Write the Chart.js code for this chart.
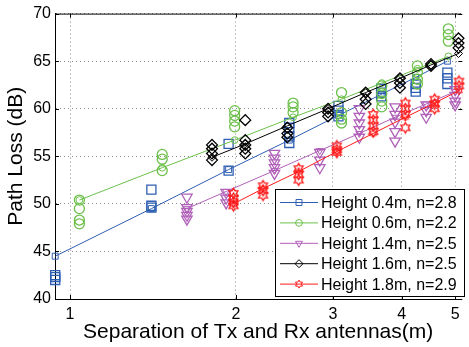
<!DOCTYPE html>
<html>
<head>
<meta charset="utf-8">
<script src="https://cdn.jsdelivr.net/npm/chart.js@4.4.0/dist/chart.umd.min.js"></script>
<style>
  html, body { margin: 0; padding: 0; background: #fff; }
  #wrap { width: 469px; height: 347px; }
</style>
</head>
<body>
<div id="wrap"><canvas id="chart"></canvas></div>
<script>
'use strict';

const xTicks = [1, 2, 3, 4, 5];
const yTicks = [40, 45, 50, 55, 60, 65, 70];

const labels = ['Height 0.4m, n=2.8', 'Height 0.6m, n=2.2', 'Height 1.4m, n=2.5', 'Height 1.6m, n=2.5', 'Height 1.8m, n=2.9'];
const colors = ['#2f5fb3', '#6cc04a', '#b060b8', '#000000', '#ff1a1a'];
const markers = ['rect', 'circle', 'triangle', 'rectRot', 'hexagram'];

// Height 0.4m
const dist04 = [0.94, 1.405, 1.94, 2.5, 3.07, 3.67, 4.24, 4.84];
const loss04 = [[42.0, 42.3, 42.5], [51.5, 49.8, 49.6], [56.3, 53.5], [58.5, 58.0, 57.1, 56.4],
  [60.3, 59.8, 59.2], [62.1, 61.7, 61.3], [62.6, 62.2, 61.8], [63.8, 63.2, 62.6]];
const fit04 = [44.5, 49.5, 53.6, 56.7, 59.3, 61.5, 63.3, 65.0];

// Height 0.6m
const dist06 = [1.04, 1.47, 1.99, 2.54, 3.11, 3.68, 4.27, 4.86];
const loss06 = [[50.4, 49.5, 48.3, 47.9], [55.2, 54.7, 53.5], [59.8, 59.3, 58.7, 58.1], [60.6, 60.2, 59.6],
  [61.7, 59.6, 58.9, 58.5], [62.4, 61.6, 60.8, 60.2], [64.5, 63.8, 63.1, 62.6], [68.4, 67.8, 67.1]];
const fit06 = [50.4, 53.8, 56.7, 59.1, 61.0, 62.7, 64.2, 65.5];

// Height 1.4m
const dist14 = [1.63, 1.92, 2.35, 2.84, 3.35, 3.89, 4.43, 5.0];
const loss14 = [[50.7, 49.6, 49.2, 48.8, 48.4], [51.2, 50.6, 50.1], [55.3, 54.8, 54.3, 53.8, 53.2], [55.4, 54.6, 53.8],
  [60.0, 59.2, 58.5, 57.8, 57.0], [60.2, 59.4, 58.6, 57.6, 56.6], [60.4, 59.8, 59.1], [62.0, 61.4, 60.8, 60.4]];
const fit14 = [49.5, 51.3, 53.5, 55.6, 57.4, 59.1, 60.5, 61.8];

// Height 1.6m
const dist16 = [1.81, 2.08, 2.48, 2.94, 3.44, 3.97, 4.52, 5.07];
const loss16 = [[56.2, 55.8, 55.3, 54.6], [58.8, 56.7, 56.2, 55.8, 55.3], [58.0, 57.4, 57.0], [60.0, 59.6, 59.2],
  [61.7, 61.0, 60.5], [63.2, 62.7, 62.2], [64.7, 64.5], [67.4, 66.9, 66.4]];
const fit16 = [54.9, 56.3, 58.2, 60.0, 61.7, 63.2, 64.6, 65.8];

// Height 1.8m
const dist18 = [1.98, 2.24, 2.6, 3.05, 3.55, 4.06, 4.59, 5.08];
const loss18 = [[51.1, 50.6, 50.2, 49.8], [51.9, 51.4, 50.9], [53.7, 53.1, 52.5], [56.1, 55.7, 55.4],
  [59.4, 58.8, 58.2, 57.6], [60.6, 60.0, 59.4, 58.0], [61.0, 60.5, 60.0], [62.9, 62.4]];
const fit18 = [50.0, 51.6, 53.4, 55.5, 57.4, 59.1, 60.6, 61.9];

const dists = [dist04, dist06, dist14, dist16, dist18];
const losses = [loss04, loss06, loss14, loss16, loss18];
const fits = [fit04, fit06, fit14, fit16, fit18];

const FONT = 'Liberation Sans, Arial, Helvetica, sans-serif';
const bigR = { rect: 6.4, circle: 5, triangle: 6, rectRot: 5.4, hexagram: 5.2 };
const smallR = { rect: 4.2, circle: 3.4, triangle: 4, rectRot: 4, hexagram: 4 };

// marker outlines (MATLAB style, unfilled)
function markerPath(ctx, shape, x, y, r) {
  ctx.beginPath();
  if (shape === 'rect') {
    const s = r * Math.SQRT2;
    ctx.rect(x - s / 2, y - s / 2, s, s);
  } else if (shape === 'circle') {
    ctx.arc(x, y, r, 0, Math.PI * 2);
  } else if (shape === 'triangle') {
    const w = r * Math.sin(Math.PI / 3);
    ctx.moveTo(x, y + r);
    ctx.lineTo(x - w, y - r / 2);
    ctx.lineTo(x + w, y - r / 2);
    ctx.closePath();
  } else if (shape === 'rectRot') {
    ctx.moveTo(x, y - r); ctx.lineTo(x + r, y); ctx.lineTo(x, y + r); ctx.lineTo(x - r, y);
    ctx.closePath();
  } else {
    for (let k = 0; k < 12; k++) {
      const a = -Math.PI / 2 + k * Math.PI / 6;
      const rr = k % 2 === 0 ? r : r / Math.sqrt(3);
      const px = x + rr * Math.cos(a), py = y + rr * Math.sin(a);
      if (k === 0) ctx.moveTo(px, py); else ctx.lineTo(px, py);
    }
    ctx.closePath();
  }
}

function hexImage(r, color, lw) {
  const c = document.createElement('canvas');
  const size = Math.ceil(2 * r + 4);
  c.width = size; c.height = size;
  const g = c.getContext('2d');
  g.strokeStyle = color; g.lineWidth = lw;
  markerPath(g, 'hexagram', size / 2, size / 2, r);
  g.stroke();
  return c;
}

function styleFor(i, r, lw) {
  const m = markers[i];
  if (m === 'hexagram') return { pointStyle: hexImage(r, colors[i], lw), pointRotation: 0 };
  return { pointStyle: m, pointRotation: m === 'triangle' ? 180 : 0 };
}

const datasets = [];
labels.forEach((lab, i) => {
  const pts = [];
  dists[i].forEach((d, j) => losses[i][j].forEach(v => pts.push({ x: d, y: v })));
  const big = styleFor(i, bigR[markers[i]], 1.3);
  datasets.push(Object.assign({
    type: 'scatter', label: '', data: pts, showLine: false,
    borderColor: colors[i], backgroundColor: 'transparent',
    pointRadius: bigR[markers[i]], pointBorderWidth: 1.3, pointBorderColor: colors[i],
    pointBackgroundColor: 'transparent', clip: false, order: 100 - 2 * i
  }, big));
  const small = styleFor(i, smallR[markers[i]], 1);
  datasets.push(Object.assign({
    type: 'line', label: lab, data: dists[i].map((d, j) => ({ x: d, y: fits[i][j] })),
    borderColor: colors[i], borderWidth: 1, backgroundColor: 'transparent', fill: false, tension: 0,
    pointRadius: smallR[markers[i]], pointBorderWidth: 1, pointBorderColor: colors[i],
    pointBackgroundColor: 'transparent', clip: false, order: 99 - 2 * i
  }, small));
});

const framePlugin = {
  id: 'frame',
  afterDraw(chart) {
    const { ctx, chartArea: a, scales } = chart;
    ctx.save();
    ctx.strokeStyle = '#000';
    ctx.lineWidth = 1;
    ctx.beginPath();
    ctx.moveTo(a.left, a.top + 0.5); ctx.lineTo(a.right, a.top + 0.5);
    xTicks.forEach(v => {
      const x = Math.round(scales.x.getPixelForValue(v)) + 0.5;
      ctx.moveTo(x, a.bottom); ctx.lineTo(x, a.bottom - 4);
      ctx.moveTo(x, a.top); ctx.lineTo(x, a.top + 4);
    });
    yTicks.forEach(v => {
      const y = Math.round(scales.y.getPixelForValue(v)) + 0.5;
      ctx.moveTo(a.left, y); ctx.lineTo(a.left + 4, y);
      ctx.moveTo(a.right + 1, y); ctx.lineTo(a.right - 3, y);
    });
    ctx.stroke();

    // legend box
    const bx = 275.5, by = 189.5, bw = 189, bh = 107;
    ctx.fillStyle = '#fff';
    ctx.fillRect(bx, by, bw, bh);
    ctx.strokeRect(bx, by, bw, bh);
    ctx.font = '16px ' + FONT;
    ctx.textBaseline = 'middle';
    ctx.textAlign = 'left';
    labels.forEach((lab, i) => {
      const y = 202.5 + i * 20.4;
      ctx.strokeStyle = colors[i];
      ctx.beginPath();
      ctx.moveTo(280, y); ctx.lineTo(318, y);
      ctx.stroke();
      markerPath(ctx, markers[i], 299, y, smallR[markers[i]]);
      ctx.stroke();
      ctx.fillStyle = '#000';
      ctx.fillText(lab, 321, y + 1);
    });
    ctx.restore();
  }
};

new Chart(document.getElementById('chart'), {
  type: 'scatter',
  data: { datasets },
  options: {
    responsive: true,
    maintainAspectRatio: false,
    animation: false,
    layout: { padding: { top: 12, right: 0, left: 0, bottom: 0 } },
    plugins: { legend: { display: false }, tooltip: { enabled: false } },
    scales: {
      x: {
        type: 'logarithmic',
        min: 0.9392,
        max: 5.13,
        afterBuildTicks: s => { s.ticks = xTicks.map(v => ({ value: v })); },
        afterFit: s => { s.height = 48; },
        ticks: {
          autoSkip: false, maxRotation: 0, padding: 6, color: '#000',
          font: { family: FONT, size: 16 },
          callback: v => String(v)
        },
        grid: { color: '#8a8a8a', lineWidth: 1, drawTicks: false },
        border: { display: true, color: '#000', width: 1, dash: [1, 3] },
        title: {
          display: true, text: 'Separation of Tx and Rx antennas(m)', color: '#000',
          font: { family: FONT, size: 21 }, padding: { top: 0, bottom: 2 }
        }
      },
      y: {
        min: 40,
        max: 70,
        afterBuildTicks: s => { s.ticks = yTicks.map(v => ({ value: v })); },
        afterFit: s => { s.width = 55; },
        ticks: { padding: 4, color: '#000', font: { family: FONT, size: 16 } },
        grid: { color: '#8a8a8a', lineWidth: 1, drawTicks: false },
        border: { display: true, color: '#000', width: 1, dash: [1, 3] },
        title: {
          display: true, text: 'Path Loss (dB)', color: '#000',
          font: { family: FONT, size: 21 }, padding: { top: 4, bottom: 0 }
        }
      }
    }
  },
  plugins: [framePlugin]
});
</script>
</body>
</html>
